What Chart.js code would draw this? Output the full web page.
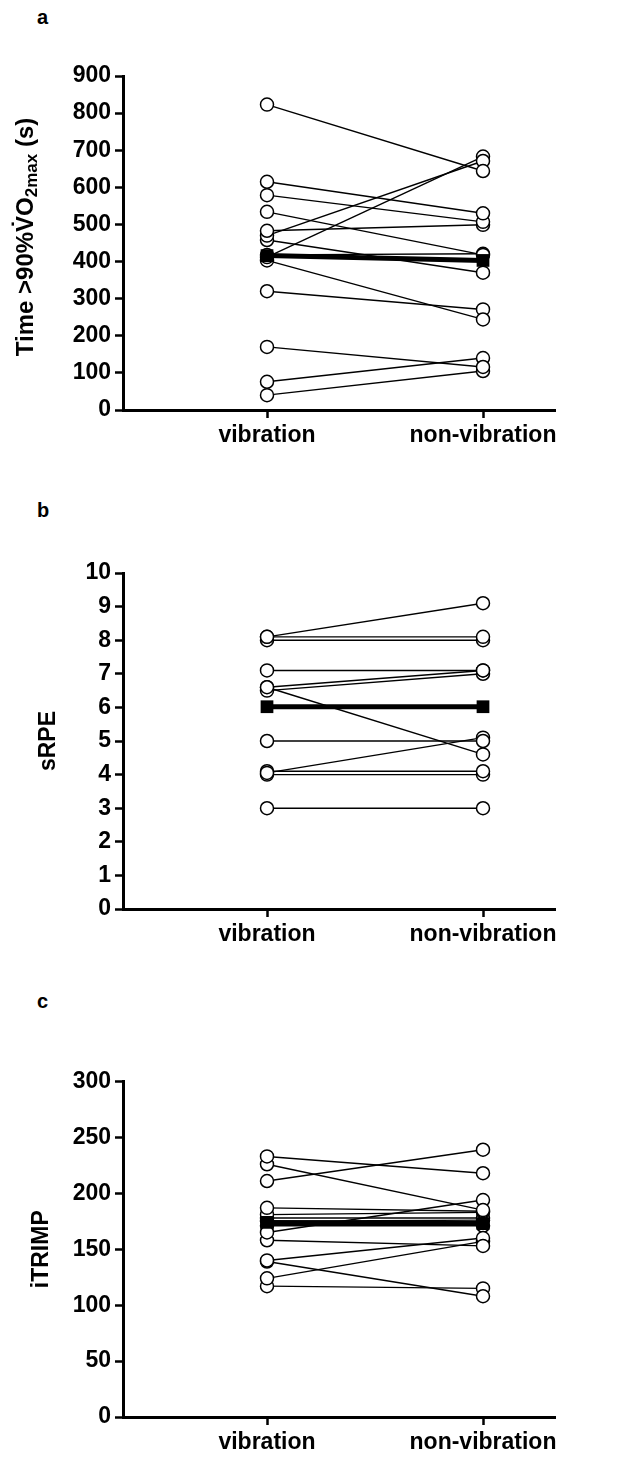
<!DOCTYPE html>
<html>
<head>
<meta charset="utf-8">
<script src="https://cdn.jsdelivr.net/npm/chart.js@4"></script>
<style>
  body { margin: 0; background: #fff; width: 620px; height: 1457px; position: relative; overflow: hidden; }
  canvas { position: absolute; left: 0; }
  .letter { position: absolute; left: 37px; font: bold 20px "Liberation Sans", Arial, sans-serif; line-height: 20px; color: #000; }
</style>
</head>
<body>
<div class="letter" style="top:7px">a</div>
<div class="letter" style="top:500px">b</div>
<div class="letter" style="top:991px">c</div>
<canvas id="chartA" width="620" height="480" style="top:0"></canvas>
<canvas id="chartB" width="620" height="490" style="top:480px"></canvas>
<canvas id="chartC" width="620" height="487" style="top:970px"></canvas>
<script>
// 공통 x축: 두 조건
const categories = ["vibration", "non-vibration"];
const xPositions = [1, 2.5];

// a: Time >90% VO2max (s)
const timeVibration    = [823, 615, 579, 534, 483, 470, 412, 458, 403, 320, 170, 76, 40, 418];
const timeNonVibration = [644, 530, 507, 418, 499, 671, 683, 370, 244, 271, 116, 140, 105, 421];
const timeMean = [416, 403];
const timeTicks = [0, 100, 200, 300, 400, 500, 600, 700, 800, 900];

// b: sRPE
const rpeVibration    = [8.1, 8.1, 8.0, 7.1, 6.6, 6.5, 6.6, 5.0, 4.05, 4.1, 4.0, 3.0];
const rpeNonVibration = [9.1, 8.1, 8.0, 7.1, 7.1, 7.0, 4.6, 5.0, 5.1, 4.1, 4.0, 3.0];
const rpeMean = [6.02, 6.02];
const rpeTicks = [0, 1, 2, 3, 4, 5, 6, 7, 8, 9, 10];

// c: iTRIMP
const trimpVibration    = [233, 226, 211, 187, 165, 158, 140, 139, 124, 117, 181, 178, 175, 171];
const trimpNonVibration = [218, 185, 239, 184, 194, 153, 160, 108, 157, 115, 183, 178, 176, 171];
const trimpMean = [174, 173];
const trimpTicks = [0, 50, 100, 150, 200, 250, 300];

const FONT = '"Liberation Sans", Arial, sans-serif';
const SIZE = 23;

// 아래첨자가 있는 y축 제목을 그리는 플러그인
const subTitlePlugin = {
    id: "subTitle",
    afterDraw(chart, args, opts) {
        if (!opts.parts) return;
        const ctx = chart.ctx;
        const area = chart.chartArea;
        ctx.save();
        ctx.translate(opts.x, (area.top + area.bottom) / 2 + opts.shift);
        ctx.rotate(-Math.PI / 2);
        ctx.fillStyle = "#000";
        ctx.textBaseline = "middle";
        let total = 0;
        opts.parts.forEach(p => {
            ctx.font = "bold " + p.size + "px " + FONT;
            total += ctx.measureText(p.text).width;
        });
        let x = -total / 2;
        opts.parts.forEach(p => {
            ctx.font = "bold " + p.size + "px " + FONT;
            ctx.fillText(p.text, x, p.dy);
            x += ctx.measureText(p.text).width;
        });
        ctx.restore();
    },
};

function pairedChart(id, vib, non, mean, yTicks, pad, yTitle, subTitle) {
    // 평균: 굵은 선 + 검은 사각형
    const datasets = [{
        data: xPositions.map((x, i) => ({ x: x, y: mean[i] })),
        borderColor: "#000",
        borderWidth: 5,
        pointStyle: "rect",
        pointRadius: 9,
        pointBackgroundColor: "#000",
        pointBorderColor: "#000",
        pointBorderWidth: 0,
        order: 0,
    }];
    // 개인별 선 + 빈 원
    vib.forEach((v, i) => {
        datasets.push({
            data: [{ x: xPositions[0], y: v }, { x: xPositions[1], y: non[i] }],
            borderColor: "#000",
            borderWidth: 1.4,
            pointRadius: 6.5,
            pointBorderWidth: 1.5,
            pointBackgroundColor: "#fff",
            pointBorderColor: "#000",
            order: 1,
        });
    });

    return new Chart(document.getElementById(id), {
        type: "line",
        data: { datasets: datasets },
        options: {
            responsive: false,
            animation: false,
            events: [],
            layout: { padding: { top: pad.top, bottom: pad.bottom, left: 0, right: 65 } },
            plugins: {
                legend: { display: false },
                tooltip: { enabled: false },
                subTitle: subTitle || {},
            },
            scales: {
                x: {
                    type: "linear",
                    min: 0,
                    max: 3,
                    afterBuildTicks: s => { s.ticks = xPositions.map(v => ({ value: v })); },
                    afterFit: s => { s.height = 40; },
                    ticks: {
                        callback: (v, i) => categories[i],
                        color: "#000",
                        font: { family: FONT, size: SIZE, weight: "bold" },
                        padding: 4,
                        maxRotation: 0,
                        autoSkip: false,
                    },
                    grid: { drawOnChartArea: false, tickLength: 8, tickWidth: 2.5, tickColor: "#000" },
                    border: { width: 3, color: "#000" },
                },
                y: {
                    min: yTicks[0],
                    max: yTicks[yTicks.length - 1],
                    afterBuildTicks: s => { s.ticks = yTicks.map(v => ({ value: v })); },
                    afterFit: s => { s.width = 123; },
                    ticks: {
                        color: "#000",
                        font: { family: FONT, size: SIZE, weight: "bold" },
                        padding: 4,
                    },
                    title: {
                        display: !!yTitle,
                        text: yTitle,
                        color: "#000",
                        font: { family: FONT, size: SIZE, weight: "bold" },
                        padding: { top: pad.title, bottom: 0 },
                    },
                    grid: { drawOnChartArea: false, tickLength: 8, tickWidth: 2.5, tickColor: "#000" },
                    border: { width: 3, color: "#000" },
                },
            },
        },
        plugins: [subTitlePlugin],
    });
}

pairedChart("chartA", timeVibration, timeNonVibration, timeMean, timeTicks,
    { top: 76, bottom: 30, title: 0 }, "", {
        x: 26,
        shift: -6,
        parts: [
            { text: "Time >90%V\u0307O", size: 24, dy: 0 },
            { text: "2max", size: 17, dy: 6 },
            { text: " (s)", size: 24, dy: 0 },
        ],
    });

pairedChart("chartB", rpeVibration, rpeNonVibration, rpeMean, rpeTicks,
    { top: 93, bottom: 21, title: 35 }, "sRPE");

pairedChart("chartC", trimpVibration, trimpNonVibration, trimpMean, trimpTicks,
    { top: 111.5, bottom: 0, title: 28 }, "iTRIMP");
</script>
</body>
</html>
